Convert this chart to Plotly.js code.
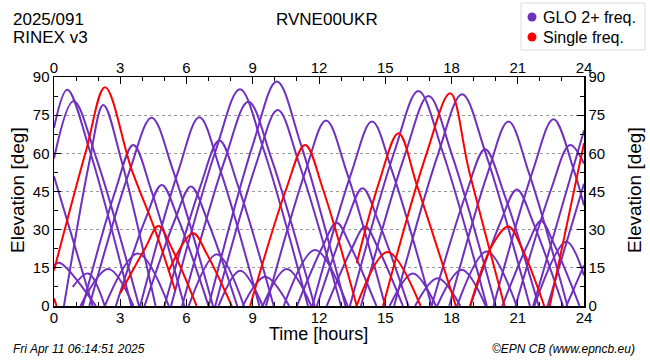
<!DOCTYPE html>
<html><head><meta charset="utf-8">
<script src="https://cdn.plot.ly/plotly-3.0.1.min.js"></script>
<style>html,body{margin:0;padding:0;background:#fff}</style>
</head><body><div id="chart" style="width:650px;height:360px"></div>
<script>
// ---- data (time in hours, elevation in degrees) ----
const stationName = 'RVNE00UKR';
const dayLabel = '2025/091';
const rinexLabel = 'RINEX v3';
const seriesNames = ['GLO 2+ freq.', 'Single freq.'];
const xTickStep = 3;
const yTickStep = 15;

// GLONASS dual-frequency passes: times and elevations of each arc
const gloTimes = [
  [0,0.6,1.62,3.5],[0,0.88,1.92,3.85],[0,1.75],[0,0.25,1.9],
  [0.45,1.61,2.23,3.06,4.6],[0.85,1.55,2.3],[1.2,2.46,3.6],
  [1.3,2.79,3.59,4.4,5.9],[2.3,3.8,5.2],[1.6,3.43,4.42,5.39,7.2],
  [2.8,4.15,4.88,5.62,7.0],[4.1,5.47,6.2,6.94,8.3],[3.9,5.64,6.58,7.53,9.3],
  [5.0,6.62,7.49,8.35,9.95],[6.1,7.37,8.6],[5.3,7.33,8.42,9.5,11.5],
  [5.8,7.75,8.8,9.85,11.8],[7.45,8.43,9.45],[8.55,9.56,10.65],
  [7.0,9.01,10.09,11.18,13.2],[7.3,9.14,10.13,11.12,13.0],[9.45,10.54,11.65],
  [10.4,11.82,13.3],[9.6,11.37,12.32,13.26,15.0],[11.0,12.17,12.8,13.43,14.6],
  [11.9,13.25,13.97,14.69,16.05],[12.35,13.48,14.09,14.69,15.8],
  [11.7,13.46,14.4,15.34,17.1],[15.2,16.25,17.3],[13.4,15.42,16.5,17.59,19.6],
  [13.9,15.89,16.96,18.02,20.0],[16.35,17.37,18.4],[17.35,18.46,19.55],
  [15.4,17.4,18.48,19.55,21.55],[17.1,18.67,19.52,20.37,21.95],[18.25,19.6,20.95],
  [17.9,19.64,20.58,21.51,23.25],[18.85,20.22,20.96,21.69,23.05],
  [20.3,21.44,22.05,22.66,23.8],[19.9,21.67,22.62,23.56,24],[21.75,23.2,24],
  [20.9,22.5,23.37,24],[21.7,24],[22.35,24],[23.2,24]
];
const gloElev = [
  [70,85,61,0],[58,80.6,58,0],[51,0],[16,17,0],
  [0,57,79,57,0],[7.5,12.8,0],[0,14.5,0],
  [0,45.6,63.3,45.6,0],[0,20.6,0],[0,53.3,74,53.3,0],
  [0,34.3,47.6,34.3,0],[0,33.8,47,33.8,0],[0,53.4,74.2,53.4,0],
  [0,46.8,65,46.8,0],[0,20.3,0],[0,61.3,85.2,61.3,0],
  [0,57.8,80.3,57.8,0],[0,13.9,0],[0,11.5,0],
  [0,63.5,88.2,63.5,0],[0,55.4,77,55.4,0],[0,14.5,0],
  [0,22,0],[0,52.5,72.9,52.5,0],[0,23.5,32.7,23.5,0],
  [0,33.3,46.3,33.3,0],[0,22.5,31.2,22.5,0],
  [0,52.2,72.5,52.2,0],[0,12.8,0],[0,60.8,84.5,60.8,0],
  [0,59.4,82.5,59.4,0],[0,10.9,0],[0,14.2,0],
  [0,59.9,83.2,59.9,0],[0,44.4,61.6,44.4,0],[0,21.4,0],
  [0,52.2,72.5,52.2,0],[0,33,45.8,33,0],
  [0,24,33.4,24,0],[0,52.8,73.4,52.8,39.5],[0,25.3,12],
  [0,45.6,63.3,56],[0,69],[0,48],[0,16]
];

// single-frequency passes
const sglTimes = [
  [0,0.12],[0,1.45,2.31,3.5,4.57,5.48],[3.0,4.12,4.73,5.34,6.46],
  [5.18,6.3,6.91,8.05],[8.88,10.5,11.37,12.19,13.71],
  [13.71,14.73,15.6,16.45,18.2],[13.7,15.1,16.6],
  [14.9,16.88,17.94,18.8,20.4],[18.84,19.85,20.58,21.2,22.2],[22.45,24]
];
const sglElev = [
  [3,0],[14,61,86,54,30,6.3],[5,22.6,31.4,22.6,0],
  [13.5,28.6,20.6,0],[0,45.6,63.3,45.6,0],
  [16.8,48.9,67.9,47,0],[0,21.2,0],
  [0,60.2,83.6,53,0],[0,24,31.2,22.5,0],[0,64]
];

// ---- build the figure ----
const PURPLE = '#7030bf', RED = '#ff0000';
const FONT = '"Liberation Sans", Arial, sans-serif';

function joinArcs(arcs) {
  const out = [];
  arcs.forEach((a, i) => { if (i) out.push(null); a.forEach(v => out.push(v)); });
  return out;
}

const traces = [
  {x: joinArcs(gloTimes), y: joinArcs(gloElev), mode: 'lines', connectgaps: false, name: seriesNames[0],
   line: {color: PURPLE, width: 2, shape: 'spline', smoothing: 1}, showlegend: false, hoverinfo: 'skip'},
  {x: joinArcs(sglTimes), y: joinArcs(sglElev), mode: 'lines', connectgaps: false, name: seriesNames[1],
   line: {color: RED, width: 2, shape: 'spline', smoothing: 1}, showlegend: false, hoverinfo: 'skip'},
  {x: [null], y: [null], xaxis: 'x2', yaxis: 'y2', mode: 'lines', showlegend: false, hoverinfo: 'skip'}
];

const L = 54, R = 584, T = 77, B = 306;
const px = v => (v - L) / (R - L);
const py = v => (B - v) / (B - T);
const pw = v => v / (R - L);
const ph = v => v / (B - T);

const xCommon = {
  range: [0, 24], tickmode: 'linear', tick0: 0, dtick: xTickStep,
  ticks: 'inside', ticklen: 7, tickwidth: 1, tickcolor: '#000',
  minor: {tick0: 0, dtick: 1, ticks: 'inside', ticklen: 4, tickcolor: '#000', showgrid: false},
  showline: true, linecolor: '#000', linewidth: 1.5, showgrid: false, zeroline: false,
  ticklabelstandoff: -3,
  tickfont: {family: FONT, size: 15, color: '#000'}, fixedrange: true
};
const yCommon = {
  range: [0, 90], tickmode: 'linear', tick0: 0, dtick: yTickStep,
  ticks: 'inside', ticklen: 7, tickwidth: 1, tickcolor: '#000',
  minor: {tick0: 0, dtick: 7.5, ticks: 'inside', ticklen: 4, tickcolor: '#000', showgrid: false},
  showline: true, linecolor: '#000', linewidth: 1.5, zeroline: false,
  tickfont: {family: FONT, size: 15, color: '#000'}, fixedrange: true
};

const legendBox = {type: 'rect', xref: 'paper', yref: 'paper', x0: px(521), x1: px(645), y0: py(50), y1: py(3),
  line: {color: '#dcdcdc', width: 1}, fillcolor: '#fff', layer: 'above'};
const dot = (cy, color) => ({type: 'circle', xref: 'paper', yref: 'paper',
  x0: px(532) - pw(4.5), x1: px(532) + pw(4.5), y0: py(cy) - ph(4.5), y1: py(cy) + ph(4.5),
  line: {width: 0}, fillcolor: color, layer: 'above'});

const layout = {
  width: 650, height: 360,
  margin: {l: L, r: 650 - R, t: T, b: 360 - B},
  paper_bgcolor: '#fff', plot_bgcolor: '#fff',
  font: {family: FONT, color: '#000'},
  showlegend: false,
  xaxis: Object.assign({}, xCommon, {side: 'bottom'}),
  xaxis2: Object.assign({}, xCommon, {side: 'top', overlaying: 'x', anchor: 'y'}),
  yaxis: Object.assign({}, yCommon, {side: 'left', showgrid: true, gridcolor: '#999', griddash: 'dot', gridwidth: 1}),
  yaxis2: Object.assign({}, yCommon, {side: 'right', overlaying: 'y', anchor: 'x', showgrid: false}),
  shapes: [legendBox, dot(17, PURPLE), dot(37, RED)],
  annotations: [
    {text: seriesNames[0], x: px(541), y: py(17), xanchor: 'left', yanchor: 'middle', font: {size: 16}},
    {text: seriesNames[1], x: px(541), y: py(37), xanchor: 'left', yanchor: 'middle', font: {size: 16}},
    {text: dayLabel, x: px(11), y: py(19), xanchor: 'left', yanchor: 'middle', font: {size: 17}},
    {text: rinexLabel, x: px(11), y: py(37), xanchor: 'left', yanchor: 'middle', font: {size: 17}},
    {text: stationName, x: px(327), y: py(20), xanchor: 'center', yanchor: 'middle', font: {size: 17}},
    {text: 'Elevation [deg]', x: px(17), y: py(190), textangle: -90, xanchor: 'center', yanchor: 'middle', font: {size: 19}},
    {text: 'Elevation [deg]', x: px(634), y: py(190), textangle: -90, xanchor: 'center', yanchor: 'middle', font: {size: 19}},
    {text: 'Time [hours]', x: px(318), y: py(334), xanchor: 'center', yanchor: 'middle', font: {size: 18}},
    {text: '<i>Fri Apr 11 06:14:51 2025</i>', x: px(11), y: py(349), xanchor: 'left', yanchor: 'middle', font: {size: 12}},
    {text: '<i>\u00a9EPN CB (www.epncb.eu)</i>', x: px(637), y: py(349), xanchor: 'right', yanchor: 'middle', font: {size: 12}}
  ].map(a => Object.assign({xref: 'paper', yref: 'paper', showarrow: false}, a))
};

Plotly.newPlot('chart', traces, layout, {staticPlot: true, displayModeBar: false});
</script></body></html>
